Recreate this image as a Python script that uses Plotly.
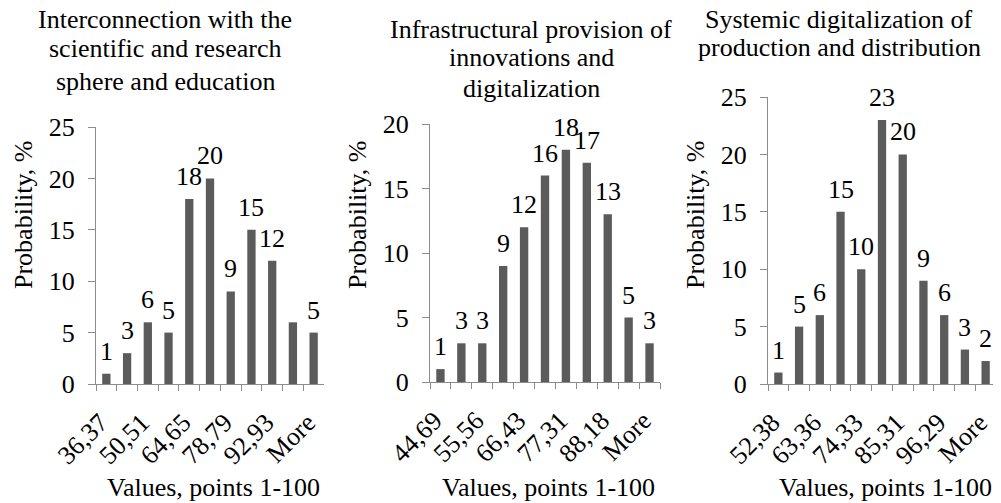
import plotly.graph_objects as go

# page body has an 8px margin; figure is sized to fit the window
OFF = 8
W, H = 1001 - OFF, 503 - OFF

# ---- data ----
cats1 = ["36,37", "43,44", "50,51", "57,58", "64,65", "71,72", "78,79", "85,86", "92,93", "100", "More"]
vals1 = [1, 3, 6, 5, 18, 20, 9, 15, 12, 6, 5]
title1 = ["Interconnection with the", "scientific and research", "sphere and education"]

cats2 = ["44,69", "50,13", "55,56", "60,99", "66,43", "71,87", "77,31", "82,74", "88,18", "93,62", "More"]
vals2 = [1, 3, 3, 9, 12, 16, 18, 17, 13, 5, 3]
title2 = ["Infrastructural provision of", "innovations and", "digitalization"]

cats3 = ["52,38", "57,87", "63,36", "68,85", "74,33", "79,82", "85,31", "90,80", "96,29", "101,78", "More"]
vals3 = [1, 5, 6, 15, 10, 23, 20, 9, 6, 3, 2]
title3 = ["Systemic digitalization of", "production and distribution"]

x_title = "Values, points 1-100"
y_title = "Probability, %"
y_max = [25, 20, 25]

# ---- layout geometry (window pixels) ----
panels = [
    dict(cats=cats1, vals=vals1, title=title1, x0=96, x1=324, ytop=127, ybot=384,
         tcx=165, tys=[19, 49, 81], ytx=23),
    dict(cats=cats2, vals=vals2, title=title2, x0=430, x1=660, ytop=124, ybot=382,
         tcx=531, tys=[29, 58, 88], ytx=357),
    dict(cats=cats3, vals=vals3, title=title3, x0=768, x1=996, ytop=97, ybot=384,
         tcx=839, tys=[19, 48], ytx=695),
]

FONT = "Liberation Serif"
FS = 26
AXC = "#8c8c8c"
BARC = "#5b5b5b"

fig = go.Figure()
annotations = []

def px_x(x):
    return (x - OFF) / W

def px_y(y):
    return 1 - (y - OFF) / H

for i, p in enumerate(panels):
    n = "" if i == 0 else str(i + 1)
    xa, ya = "x" + n, "y" + n
    fig.add_trace(go.Bar(x=p["cats"], y=p["vals"], xaxis=xa, yaxis=ya,
                         marker=dict(color=BARC, line=dict(width=0)),
                         width=0.4, showlegend=False, hoverinfo="x+y"))
    ticktext = [c if k % 2 == 0 else "" for k, c in enumerate(p["cats"])]
    fig.update_layout(**{
        "xaxis" + n: dict(domain=[px_x(p["x0"]), px_x(p["x1"])], anchor=ya,
                          type="category", categoryorder="array", categoryarray=p["cats"],
                          tickmode="array", tickvals=p["cats"], ticktext=ticktext,
                          tickson="boundaries", ticks="outside", ticklen=6, tickcolor=AXC,
                          showline=True, linecolor=AXC, linewidth=1, showgrid=False,
                          tickangle=-45, tickfont=dict(family=FONT, size=FS, color="black"),
                          ticklabelstandoff=12, ticklabelshift=-6,
                          range=[-0.5, len(p["cats"]) - 0.5], automargin=False,
                          fixedrange=True),
        "yaxis" + n: dict(domain=[px_y(p["ybot"]), px_y(p["ytop"])], anchor=xa,
                          range=[0, y_max[i]], dtick=5, tick0=0, ticks="outside", ticklen=7,
                          tickcolor=AXC, showline=True, linecolor=AXC, linewidth=1,
                          showgrid=False, zeroline=False,
                          tickfont=dict(family=FONT, size=FS, color="black"),
                          ticklabelstandoff=8, automargin=False, fixedrange=True),
    })
    # data labels
    for c, v in zip(p["cats"], p["vals"]):
        annotations.append(dict(x=c, y=v, xref=xa, yref=ya, text=str(v), showarrow=False,
                                yanchor="bottom", xanchor="center", yshift=6,
                                font=dict(family=FONT, size=FS, color="black")))
    # titles
    for t, ty in zip(p["title"], p["tys"]):
        annotations.append(dict(x=px_x(p["tcx"]), y=px_y(ty), xref="paper", yref="paper",
                                text=t, showarrow=False, xanchor="center", yanchor="middle",
                                font=dict(family=FONT, size=FS, color="black")))
    # axis titles
    annotations.append(dict(x=px_x((p["x0"] + p["x1"]) / 2 + 3), y=px_y(487), xref="paper",
                            yref="paper", text=x_title, showarrow=False, xanchor="center",
                            yanchor="middle", font=dict(family=FONT, size=FS, color="black")))
    annotations.append(dict(x=px_x(p["ytx"]), y=px_y(215), xref="paper", yref="paper",
                            text=y_title, showarrow=False, textangle=-90, xanchor="center",
                            yanchor="middle", font=dict(family=FONT, size=FS, color="black")))

fig.update_layout(width=W, height=H, margin=dict(l=0, r=0, t=0, b=0),
                  plot_bgcolor="white", paper_bgcolor="white", bargap=0.6,
                  annotations=annotations, font=dict(family=FONT, size=FS, color="black"))

fig.write_html("out.html")
